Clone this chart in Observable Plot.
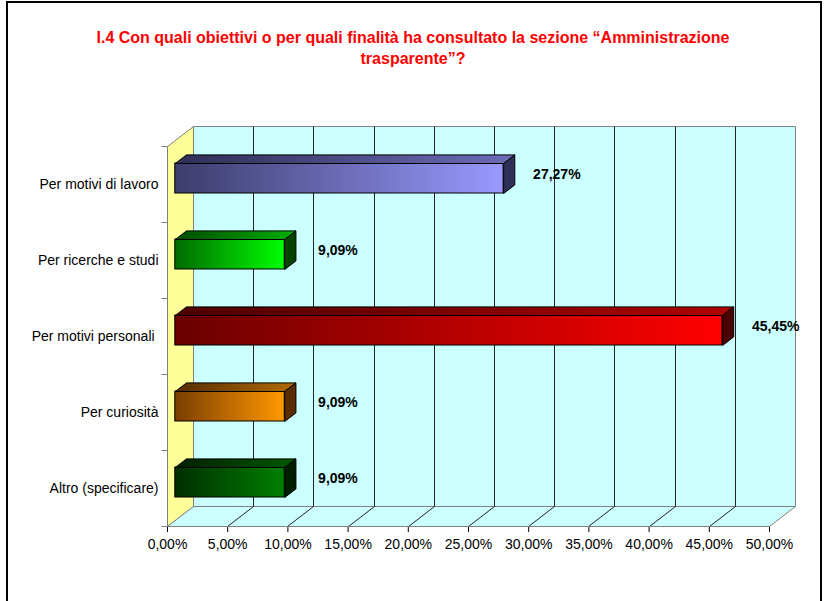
<!DOCTYPE html>
<html><head><meta charset="utf-8">
<script src="https://cdn.jsdelivr.net/npm/d3@7"></script>
<script src="https://cdn.jsdelivr.net/npm/@observablehq/plot@0.6"></script>
<style>
body{margin:0;background:#fff;}
#wrap{position:relative;width:824px;height:601px;overflow:hidden;font-family:"Liberation Sans",Arial,sans-serif;background:#fff;}
#chart{position:absolute;left:0;top:0;}
#title{position:absolute;left:0;top:27px;width:826px;text-align:center;color:#ff0000;font-weight:bold;font-size:16px;line-height:21px;}
#frame{position:absolute;left:6px;top:1px;width:816px;height:660px;border:2px solid #000;box-sizing:border-box;pointer-events:none;}
</style></head><body>
<div id="wrap"><div id="chart"></div>
<div id="title">I.4 Con quali obiettivi o per quali finalità ha consultato la sezione “Amministrazione<br>trasparente”?</div>
<div id="frame"></div></div>
<script>
// ---- data ----
const categories = ["Per motivi di lavoro", "Per ricerche e studi", "Per motivi personali ", "Per curiosità", "Altro (specificare)"];
const values = [0.2727, 0.0909, 0.4545, 0.0909, 0.0909];
const xTicks = [0, 0.05, 0.10, 0.15, 0.20, 0.25, 0.30, 0.35, 0.40, 0.45, 0.50];

// ---- styles ----
const frontColors = [["#3c3c6c", "#9999ff"], ["#006a00", "#00ff00"], ["#6a0000", "#ff0000"], ["#7a3d00", "#ff9900"], ["#002e00", "#008000"]];
const topColors = [["#2e2e55", "#6c6cb8"], ["#004c00", "#00b000"], ["#4c0000", "#b00000"], ["#552b00", "#b36b00"], ["#001f00", "#005800"]];
const sideColors = ["#2f2f58", "#004400", "#4a0000", "#5a2d00", "#001f00"];

const DX = 26, DY = -20;            // depth of the 3D box
const BF = 0.3, BB = 0.73;          // bar front/back depth fractions

const it = d3.formatLocale({decimal: ",", thousands: ".", grouping: [3], currency: ["€", ""]});
const pct = it.format(".2%");
const data = categories.map((c, i) => ({category: c, value: values[i], i}));

function defsMark() {
  const g = d3.create("svg:g");
  const defs = g.append("defs");
  const addGrad = (id, [a, b]) => {
    const lg = defs.append("linearGradient").attr("id", id).attr("x1", 0).attr("x2", 1).attr("y1", 0).attr("y2", 0);
    lg.append("stop").attr("offset", 0).attr("stop-color", a);
    lg.append("stop").attr("offset", 1).attr("stop-color", b);
  };
  frontColors.forEach((c, i) => addGrad("gf" + i, c));
  topColors.forEach((c, i) => addGrad("gt" + i, c));
  return g.node();
}

function wallsMark(index, scales) {
  const x = scales.x, y = scales.y;
  const x0 = x(0) + 0.5, x1 = x(0.5) + 0.5;
  const yT = y(categories[0]) + 0.5, yB = y(categories[categories.length - 1]) + y.bandwidth() + 0.5;
  const g = d3.create("svg:g");
  const poly = pts => "M" + pts.map(p => p.join(",")).join("L") + "Z";
  g.append("path").attr("d", poly([[x0 + DX, yT + DY], [x1 + DX, yT + DY], [x1 + DX, yB + DY], [x0 + DX, yB + DY]]))
    .attr("fill", "#ccffff").attr("stroke", "#808080");
  g.append("path").attr("d", poly([[x0, yT], [x0 + DX, yT + DY], [x0 + DX, yB + DY], [x0, yB]]))
    .attr("fill", "#ffff99").attr("stroke", "#808080");
  g.append("path").attr("d", poly([[x0, yB], [x1, yB], [x1 + DX, yB + DY], [x0 + DX, yB + DY]]))
    .attr("fill", "#ccffff").attr("stroke", "#808080");
  xTicks.slice(1, -1).forEach(t => {
    const xt = Math.round(x(t)) + 0.5;
    g.append("line").attr("x1", xt + DX).attr("x2", xt + DX).attr("y1", yT + DY).attr("y2", yB + DY).attr("stroke", "#222");
    g.append("line").attr("x1", xt).attr("x2", xt + DX).attr("y1", yB).attr("y2", yB + DY).attr("stroke", "#222");
  });
  g.append("line").attr("x1", x0).attr("x2", x0).attr("y1", yT).attr("y2", yB).attr("stroke", "#808080");
  g.append("line").attr("x1", x0).attr("x2", x1).attr("y1", yB).attr("y2", yB).attr("stroke", "#808080");
  const bounds = categories.map(c => y(c)).concat([y(categories[categories.length - 1]) + y.bandwidth()]);
  bounds.forEach(b => {
    g.append("line").attr("x1", x0 - 6).attr("x2", x0).attr("y1", Math.round(b) + 0.5).attr("y2", Math.round(b) + 0.5).attr("stroke", "#808080");
  });
  return g.node();
}

function barDepthMark(index, scales) {
  const x = scales.x, y = scales.y;
  const bw = y.bandwidth();
  const g = d3.create("svg:g");
  const fx = BF * DX, fy = BF * DY, bx = (BB - BF) * DX, by = (BB - BF) * DY;
  const poly = pts => "M" + pts.map(p => p.join(",")).join("L") + "Z";
  data.forEach(d => {
    const L = x(0) + fx + 0.5, R = x(d.value) + fx + 0.5;
    const T = Math.round(y(d.category) + 23 + fy) + 0.5, B = Math.round(y(d.category) + bw - 23 + fy) + 0.5;
    g.append("path").attr("d", poly([[L, T], [L + bx, T + by], [R + bx, T + by], [R, T]]))
      .attr("fill", `url(#gt${d.i})`).attr("stroke", "#000").attr("stroke-linejoin", "round");
    g.append("path").attr("d", poly([[R, T], [R + bx, T + by], [R + bx, B + by], [R, B]]))
      .attr("fill", sideColors[d.i]).attr("stroke", "#000").attr("stroke-linejoin", "round");
  });
  return g.node();
}

const chart = Plot.plot({
  width: 824, height: 601,
  marginLeft: 167, marginRight: 55, marginTop: 146, marginBottom: 75,
  style: {fontFamily: "'Liberation Sans', Arial, sans-serif", fontSize: "14px", color: "#000", background: "transparent", overflow: "visible"},
  x: {domain: [0, 0.5], ticks: xTicks, tickFormat: pct, tickSize: 6, tickPadding: 7, label: null},
  y: {domain: categories, padding: 0, tickSize: 0, tickPadding: 9, label: null},
  color: {type: "identity"},
  marks: [
    defsMark,
    wallsMark,
    Plot.barX(data, {x: "value", y: "category", fill: d => `url(#gf${d.i})`, stroke: "#000", strokeWidth: 1,
      insetTop: 23, insetBottom: 23, dx: BF * DX, dy: BF * DY}),
    barDepthMark,
    Plot.text(data, {x: "value", y: "category", text: d => pct(d.value), textAnchor: "middle",
      dx: 61, dy: -10, fontWeight: "bold", fontSize: 14, fill: "#000"})
  ]
});
document.getElementById("chart").appendChild(chart);
</script>
</body></html>
